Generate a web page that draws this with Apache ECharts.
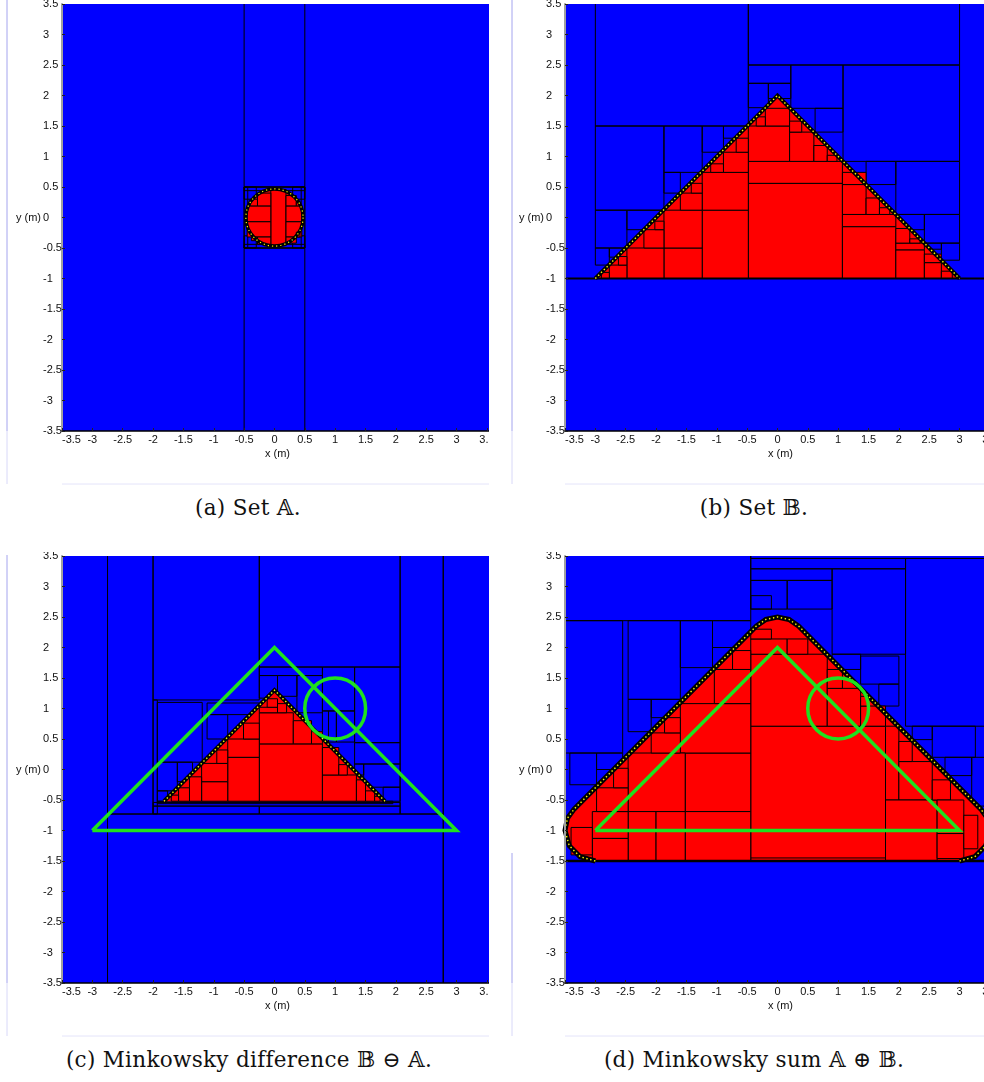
<!DOCTYPE html>
<html><head><meta charset="utf-8">
<script src="https://cdn.jsdelivr.net/npm/echarts@6/dist/echarts.min.js"></script>
<style>
html,body{margin:0;padding:0;background:#fff}
body{width:984px;height:1082px;position:relative;overflow:hidden}
.p{position:absolute}
.cap{position:absolute;width:480px;text-align:center;font-family:"DejaVu Serif","Liberation Serif",serif;font-size:21.5px;letter-spacing:0.3px;color:#111;line-height:24px;white-space:nowrap}
</style></head><body>
<div id="pa" class="p" style="left:0;top:0;width:489px;height:492px"></div>
<div id="pb" class="p" style="left:500px;top:0;width:484px;height:492px"></div>
<div id="pc" class="p" style="left:0;top:552px;width:489px;height:492px"></div>
<div id="pd" class="p" style="left:500px;top:552px;width:484px;height:492px"></div>
<div id="capA" class="cap" style="left:8px;top:496px"></div>
<div id="capB" class="cap" style="left:514px;top:496px"></div>
<div id="capC" class="cap" style="left:9px;top:1048px"></div>
<div id="capD" class="cap" style="left:514px;top:1048px"></div>
<script>
// ---------- data (boxes are [xmin, xmax, ymin, ymax] in metres) ----------
const captions = ['(a) Set \u{1D538}.', '(b) Set \u{1D539}.',
  '(c) Minkowsky difference \u{1D539} \u2296 \u{1D538}.', '(d) Minkowsky sum \u{1D538} \u2295 \u{1D539}.'];
const axisMin = -3.5, axisMax = 3.5, cropMax = 3.6, tickStep = 0.5;

// (a) Set A : disc
const aDisc = [[0, 0, 0.47]];
const aBlueBoxes = [
  [-0.5,0.5,0.5,3.6],[-0.5,0.5,-3.6,-0.5],[-0.5,0.5,-0.5,0.5],
  [-0.5,-0.44,-0.5,0.5],[0.44,0.5,-0.5,0.5],[-0.5,0.5,0.44,0.5],[-0.5,0.5,-0.5,-0.44],
  [-0.5,-0.3,0.3,0.5],[0.3,0.5,0.3,0.5],[-0.5,-0.3,-0.5,-0.3],[0.3,0.5,-0.5,-0.3]];
const aRedBoxes = [
  [-0.06,0.19,-0.46,0.46],[-0.45,-0.06,-0.07,0.19],[-0.45,-0.06,-0.32,-0.07],
  [0.19,0.45,-0.07,0.19],[0.19,0.45,-0.32,-0.07],[-0.28,-0.06,0.19,0.4],
  [0.19,0.36,0.19,0.36],[-0.28,-0.06,-0.44,-0.32],[0.19,0.36,-0.42,-0.32],
  [-0.4,-0.28,0.19,0.3],[-0.38,-0.28,-0.38,-0.32],[0.36,0.42,0.19,0.26],[0.36,0.42,-0.32,-0.24]];

// (b) Set B : triangle
const bShape = [[-3,-1],[0,2],[3,-1]];
const bFloor = [[-3.6,3.6,-3.6,-1]];
const bBlueBoxes = [
  [-3,-0.48,1.5,3.6],[-0.48,3,2.5,3.6],[-3,-1.87,0.12,1.5],[-1.87,-1.24,0.74,1.5],
  [-1.24,-0.89,1.07,1.5],[-0.89,-0.48,1.3,1.5],[-3,-2.48,-0.5,0.12],[-2.48,-1.87,-0.2,0.12],
  [-1.87,-1.6,0.4,0.74],[-3,-2.77,-0.78,-0.5],[-2.77,-2.48,-0.65,-0.5],
  [-0.48,0.22,2.2,2.5],[-0.48,-0.15,1.8,2.2],[-0.15,0.22,1.95,2.2],[0.22,1.08,1.79,2.5],
  [0.62,1.08,1.4,1.79],[1.08,3,0.92,2.5],[1.46,1.95,0.54,0.92],[1.95,3,0.05,0.92],
  [2.42,3,-0.42,0.05],[2.7,3,-0.7,-0.42],[2.42,2.7,-0.52,-0.42],[1.95,2.42,-0.2,0.05]];
const bRedBoxes = [
  [-0.48,1.07,-1,0.56],[-0.48,1.07,0.56,0.92],[-0.48,0.2,0.92,1.5],[-0.2,0.2,1.5,1.79],
  [-0.35,-0.2,1.5,1.65],[0.2,0.6,0.92,1.4],[0.2,0.4,1.4,1.58],[0.6,0.82,0.92,1.18],
  [0.82,0.98,0.92,1.02],[-1.24,-0.48,-1,0.12],[-1.24,-0.48,0.12,0.74],[-0.89,-0.48,0.74,1.07],
  [-0.68,-0.48,1.07,1.3],[-1.1,-0.89,0.74,0.88],[-1.87,-1.24,-1,-0.5],[-1.87,-1.24,-0.5,0.12],
  [-1.6,-1.24,0.12,0.4],[-1.42,-1.24,0.4,0.56],[-2.48,-1.87,-1,-0.5],[-2.2,-1.87,-0.5,-0.2],
  [-2.02,-1.87,-0.2,-0.06],[-2.77,-2.48,-1,-0.78],[-2.62,-2.48,-0.78,-0.64],[-2.9,-2.77,-1,-0.9],
  [1.07,1.95,-1,-0.15],[1.07,1.95,-0.15,0.05],[1.07,1.46,0.05,0.54],[1.07,1.46,0.54,0.74],
  [1.46,1.68,0.05,0.32],[1.68,1.85,0.05,0.16],[1.95,2.42,-1,-0.53],[1.95,2.42,-0.53,-0.42],
  [1.95,2.18,-0.42,-0.18],[2.18,2.35,-0.42,-0.35],[2.42,2.7,-1,-0.74],[2.42,2.7,-0.74,-0.6],
  [2.7,2.88,-1,-0.88]];

// (c) Minkowski difference
const cShape = [[-1.82,-0.52],[0,1.3],[1.82,-0.52]];
const cBlueBoxes = [
  [-3.6,-2.75,-3.6,3.6],[2.78,3.6,-3.6,3.6],[-2.75,2.78,-3.6,-0.73],[-2.75,-2.0,-0.73,3.6],
  [-2.0,-0.25,1.14,3.6],[-0.25,2.07,1.68,3.6],[2.07,2.78,-0.73,3.6],[-2.0,-1.93,-0.73,1.14],
  [-1.93,-1.19,0.12,1.1],[-1.93,-1.6,-0.35,0.12],[-1.6,-1.35,-0.2,0.12],[-1.93,-1.76,-0.52,-0.35],
  [-1.11,-0.25,0.9,1.09],[-1.11,-0.77,0.5,0.9],[-0.25,0.79,1.54,1.68],[-0.25,0.05,1.17,1.54],
  [0.05,0.37,1.2,1.54],[0.37,0.79,0.93,1.54],[0.79,1.32,0.96,1.68],[0.79,0.89,0.45,0.96],
  [0.89,1.02,0.45,0.96],[1.02,1.32,0.45,0.96],[1.32,2.07,0.44,1.68],[1.32,2.07,0.09,0.44],
  [1.32,1.47,-0.09,0.09],[1.47,2.07,-0.29,0.09],[1.79,2.07,-0.52,-0.29],[-2.0,2.07,-0.6,-0.54],
  [-1.93,1.95,-0.56,-0.52],[-2.0,-0.25,-0.73,-0.6],[-0.25,2.07,-0.73,-0.6]];
const cRedBoxes = [
  [-0.25,0.79,-0.52,0.42],[-0.25,0.31,0.42,0.93],[0.31,0.61,0.42,0.8],[0.61,0.79,0.42,0.62],
  [-0.25,0.05,0.93,1.02],[-0.12,0.05,1.02,1.16],[0.05,0.2,0.93,1.08],[-0.77,-0.25,-0.52,0.2],
  [-0.77,-0.25,0.2,0.5],[-0.51,-0.25,0.5,0.76],[-1.2,-0.77,-0.52,-0.2],[-1.2,-0.77,-0.2,0.1],
  [-0.95,-0.77,0.1,0.32],[-1.4,-1.2,-0.52,-0.12],[-1.58,-1.4,-0.52,-0.3],[-1.7,-1.58,-0.52,-0.42],
  [0.79,1.35,-0.52,-0.09],[0.79,1.06,-0.09,0.36],[1.06,1.2,-0.09,0.08],[1.35,1.5,-0.52,-0.17],
  [1.5,1.65,-0.52,-0.35],[1.65,1.74,-0.52,-0.44]];

// (d) Minkowski sum
const dShape = [[-3.0,-1.5],[-3.25,-1.43],[-3.43,-1.25],[-3.5,-1.0],[-3.46,-0.8],[-3.35,-0.65],
  [-0.35,2.35],[-0.19,2.46],[0,2.5],[0.19,2.46],[0.35,2.35],[3.35,-0.65],[3.46,-0.8],
  [3.5,-1.0],[3.43,-1.25],[3.25,-1.43],[3.0,-1.5]];
const dFloor = [[-3.6,3.6,-3.6,-1.5]];
const dBlueBoxes = [
  [-3.6,-0.44,2.44,3.6],[-0.44,3.6,3.46,3.6],[-0.44,2.11,3.29,3.46],[-0.44,0.9,3.1,3.29],
  [-0.44,0.16,2.63,3.1],[0.16,0.9,2.63,3.1],[-0.44,-0.1,2.63,2.85],[0.9,2.11,1.89,3.29],
  [2.11,3.6,0.71,3.46],[-3.6,-2.55,0.27,2.44],[-2.46,-1.6,1.15,2.44],[-1.6,-1.07,1.67,2.44],
  [-1.07,-0.44,2.0,2.44],[-2.46,-2.08,0.62,1.15],[-2.08,-1.6,0.85,1.15],[-3.42,-2.98,-0.25,0.27],
  [-2.98,-2.55,0.0,0.27],[1.37,2.0,1.4,1.86],[1.67,2.0,1.04,1.4],[2.22,2.55,0.49,0.71],
  [2.55,3.26,0.2,0.71],[2.76,3.2,-0.1,0.2],[3.2,3.6,-0.6,0.2],[0.9,1.37,1.64,1.89]];
const dRedBoxes = [
  [-0.44,1.78,-1.5,0.71],[-0.44,1.78,-1.5,-1.45],[-0.44,0.82,0.71,1.89],[-0.44,0.16,1.89,2.14],
  [0.16,0.5,1.89,2.14],[-0.44,-0.1,2.14,2.3],[0.82,1.37,0.71,1.33],[0.82,1.07,1.33,1.64],
  [1.37,1.78,0.71,1.04],[1.37,1.5,1.04,1.2],[1.78,2.0,-0.5,0.71],[2.0,2.55,-0.5,0.13],
  [2.0,2.22,0.13,0.46],[1.78,2.63,-1.5,-0.5],[2.55,2.85,-0.5,-0.17],[2.63,3.07,-1.05,-0.5],
  [2.63,3.07,-1.46,-1.05],[3.07,3.3,-1.3,-0.75],[-1.52,-0.44,-0.69,0.27],[-1.52,-0.44,-1.5,-0.69],
  [-1.6,-0.44,0.27,1.08],[-1.04,-0.44,1.08,1.64],[-0.74,-0.44,1.64,1.95],[-2.46,-1.52,-0.69,0.27],
  [-2.46,-2.0,-1.5,-0.69],[-2.0,-1.52,-1.5,-0.69],[-2.08,-1.6,0.27,0.6],[-1.86,-1.6,0.6,0.85],
  [-3.05,-2.46,-1.13,-0.69],[-3.05,-2.46,-1.5,-1.13],[-2.98,-2.46,-0.69,-0.3],[-2.7,-2.46,-0.3,0.02],
  [-3.4,-3.05,-1.4,-0.95]];

// overlays in (c) and (d): the original triangle B and the disc A shifted to (1,1)
const greenTriangle = [[-3,-1],[0,2],[3,-1],[-3,-1]];
const greenCircle = [[1, 1, 0.5]];

// ---------- styles ----------
const BLUE = '#0000ff', RED = '#ff0000', GREEN = '#1fe01f', YELLOW = '#ffff00';
const FONT = '"Liberation Sans", Arial, sans-serif';

function boxes(data, fill, stroke, lw, z) {
  return { type: 'custom', z, clip: true, silent: true, animation: false, data,
    renderItem(params, api) {
      const tl = api.coord([api.value(0), api.value(3)]);
      const br = api.coord([api.value(1), api.value(2)]);
      return { type: 'rect', shape: { x: tl[0], y: tl[1], width: br[0] - tl[0], height: br[1] - tl[1] },
        style: { fill, stroke, lineWidth: lw } };
    } };
}
function shapeFill(pts, z) {
  return { type: 'custom', z, clip: true, silent: true, animation: false, data: [pts[0]],
    renderItem(params, api) {
      return { type: 'polygon', shape: { points: pts.map(p => api.coord(p)) }, style: { fill: RED } };
    } };
}
function circles(data, fill, stroke, lw, z, dash) {
  return { type: 'custom', z, clip: true, silent: true, animation: false, data,
    renderItem(params, api) {
      const c = api.coord([api.value(0), api.value(1)]);
      const s = api.size([api.value(2), api.value(2)]);
      return { type: 'circle', shape: { cx: c[0], cy: c[1], r: (s[0] + s[1]) / 2 },
        style: { fill, stroke, lineWidth: lw, lineDash: dash || null } };
    } };
}
function line(pts, color, w, z, type) {
  return { type: 'line', data: pts, symbol: 'none', z, silent: true, animation: false, clip: true,
    lineStyle: { color, width: w, type: type || 'solid', cap: 'butt', join: 'miter' } };
}
function fringe(pts, w, z) {
  return [line(pts, '#000', w, z), line(pts, YELLOW, 1.4, z + 1, [1.4, 2.6])];
}

function option(gridLeft, series, frame) {
  return {
    animation: false,
    grid: { left: gridLeft, top: 4, width: 431, height: 427, show: true, backgroundColor: BLUE, borderWidth: 0,
      containLabel: false, outerBoundsMode: 'none' },
    xAxis: {
      type: 'value', min: axisMin, max: cropMax, interval: tickStep, z: 20,
      axisLine: { onZero: false, lineStyle: { color: '#000', width: 1.5 } },
      axisTick: { inside: true, length: 3, lineStyle: { color: '#222' } },
      splitLine: { show: false },
      axisLabel: { margin: 3, fontSize: 11, color: '#111', fontFamily: FONT, alignMinLabel: 'left',
        hideOverlap: false, formatter: v => (v > axisMax + 1e-9 ? '' : String(v)) },
      name: 'x (m)', nameLocation: 'middle', nameGap: 17, nameMoveOverlap: false,
      nameTextStyle: { fontSize: 11, color: '#111', fontFamily: FONT }
    },
    yAxis: {
      type: 'value', min: axisMin, max: axisMax, interval: tickStep, z: 20,
      axisLine: { onZero: false, lineStyle: { color: '#a0a0a0', width: 2 } },
      axisTick: { inside: true, length: 3, lineStyle: { color: '#222' } },
      splitLine: { show: false },
      axisLabel: { margin: 19, align: 'left', fontSize: 11, color: '#111', fontFamily: FONT },
      name: 'y (m)', nameLocation: 'middle', nameRotate: 0, nameGap: 21, nameMoveOverlap: false,
      nameTextStyle: { fontSize: 11, color: '#111', fontFamily: FONT, align: 'right', verticalAlign: 'middle' }
    },
    graphic: frame,
    series
  };
}
function frameLeft(x, y0, gl) {
  return [
    { type: 'line', shape: { x1: x, y1: y0, x2: x, y2: 431 }, style: { stroke: '#a4a4ee', lineWidth: 1 } },
    { type: 'line', shape: { x1: x, y1: Math.max(y0, 431), x2: x, y2: 484 }, style: { stroke: '#d8d8f8', lineWidth: 1 } },
    { type: 'line', shape: { x1: gl, y1: 484, x2: 489, y2: 484 }, style: { stroke: '#e4e4fa', lineWidth: 1 } }
  ];
}

const seriesA = [
  boxes(aBlueBoxes, 'none', '#000', 1, 3),
  circles(aDisc, RED, null, 0, 4),
  boxes(aRedBoxes, RED, '#000', 1, 5),
  circles(aDisc, 'none', '#000', 3.5, 6),
  circles(aDisc, 'none', YELLOW, 1.2, 7, [1.2, 3])
];
const seriesB = [
  boxes(bBlueBoxes, 'none', '#000', 1, 3),
  shapeFill(bShape, 4),
  boxes(bRedBoxes, RED, '#000', 1, 5),
  boxes(bFloor, 'none', '#000', 2, 6),
  ...fringe(bShape, 4, 7)
];
const seriesC = [
  boxes(cBlueBoxes, 'none', '#000', 1, 3),
  shapeFill(cShape, 4),
  boxes(cRedBoxes, RED, '#000', 1, 5),
  ...fringe(cShape, 4, 7),
  line(greenTriangle, GREEN, 3.5, 10),
  circles(greenCircle, 'none', GREEN, 3.5, 11)
];
const seriesD = [
  boxes(dBlueBoxes, 'none', '#000', 1, 3),
  shapeFill(dShape, 4),
  boxes(dRedBoxes, RED, '#000', 1, 5),
  boxes(dFloor, 'none', '#000', 2.5, 6),
  ...fringe(dShape, 5, 7),
  line(greenTriangle, GREEN, 3.5, 10),
  circles(greenCircle, 'none', GREEN, 3.5, 11)
];

echarts.init(document.getElementById('pa'), null, { renderer: 'canvas' }).setOption(option(62, seriesA, frameLeft(7, 0, 62)));
echarts.init(document.getElementById('pb'), null, { renderer: 'canvas' }).setOption(option(65, seriesB, frameLeft(12, 0, 65)));
echarts.init(document.getElementById('pc'), null, { renderer: 'canvas' }).setOption(option(62, seriesC, frameLeft(7, 3, 62)));
echarts.init(document.getElementById('pd'), null, { renderer: 'canvas' }).setOption(option(65, seriesD, frameLeft(12, 301, 65)));

document.getElementById('capA').textContent = captions[0];
document.getElementById('capB').textContent = captions[1];
document.getElementById('capC').textContent = captions[2];
document.getElementById('capD').textContent = captions[3];
</script>
</body></html>
